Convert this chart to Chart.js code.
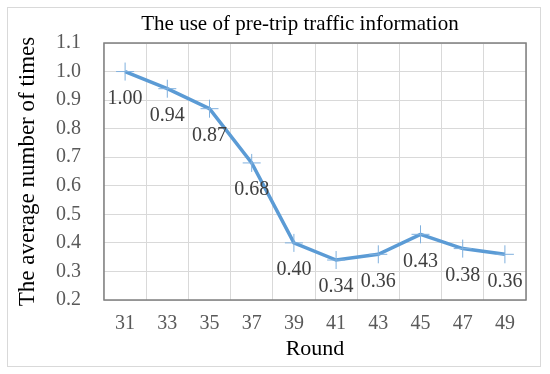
<!DOCTYPE html>
<html>
<head>
<meta charset="utf-8">
<script src="https://cdn.jsdelivr.net/npm/chart.js@4/dist/chart.umd.min.js"></script>
<style>
  body { margin: 0; background: #fff; }
  .frame { position: absolute; left: 7px; top: 7px; width: 534px; height: 360px; border: 1px solid #d9d9d9; box-sizing: border-box; }
</style>
</head>
<body>
<div class="frame"><canvas id="chart" width="532" height="358"></canvas></div>
<script>
const rounds = ['31', '33', '35', '37', '39', '41', '43', '45', '47', '49'];
const avgTimes = [1.00, 0.94, 0.87, 0.68, 0.40, 0.34, 0.36, 0.43, 0.38, 0.36];
const yMin = 0.2, yMax = 1.1, yStep = 0.1;
const chartTitle = 'The use of pre-trip traffic information';

const serif = '"Liberation Serif", "Times New Roman", serif';

// title drawn by hand, it sits a bit left of the plot centre
const titleText = {
  id: 'titleText',
  afterDraw(chart) {
    const ctx = chart.ctx;
    ctx.save();
    ctx.font = '21px ' + serif;
    ctx.fillStyle = '#000';
    ctx.textAlign = 'center';
    ctx.textBaseline = 'middle';
    ctx.fillText(chartTitle, chart.width / 2 + 26, 16);
    ctx.restore();
  }
};

// value labels under each point, Excel style
const valueLabels = {
  id: 'valueLabels',
  afterDatasetsDraw(chart) {
    const ctx = chart.ctx;
    const meta = chart.getDatasetMeta(0);
    ctx.save();
    ctx.font = '20px ' + serif;
    ctx.fillStyle = '#404040';
    ctx.textAlign = 'center';
    ctx.textBaseline = 'middle';
    meta.data.forEach((pt, i) => {
      ctx.fillText(avgTimes[i].toFixed(2), pt.x, pt.y + 27);
    });
    ctx.restore();
  }
};

// dark box round the plot area
const plotBox = {
  id: 'plotBox',
  beforeDatasetsDraw(chart) {
    const { ctx, chartArea: a } = chart;
    ctx.save();
    ctx.strokeStyle = '#7f7f7f';
    ctx.lineWidth = 1.5;
    ctx.strokeRect(a.left, a.top, a.right - a.left, a.bottom - a.top);
    ctx.restore();
  }
};

new Chart(document.getElementById('chart'), {
  type: 'line',
  data: {
    labels: rounds,
    datasets: [{
      data: avgTimes,
      borderColor: '#5b9bd5',
      borderWidth: 3.5,
      tension: 0,
      pointStyle: 'cross',
      pointRadius: 9,
      pointBorderWidth: 1,
      pointBorderColor: '#7fb0de'
    }]
  },
  options: {
    responsive: false,
    animation: false,
    layout: { padding: { left: 0, right: 14, top: 35, bottom: 0 } },
    plugins: {
      legend: { display: false },
      tooltip: { enabled: false },
      title: { display: false }
    },
    scales: {
      x: {
        offset: true,
        grid: { offset: true, color: '#d9d9d9', drawTicks: false },
        border: { display: false },
        ticks: { color: '#595959', font: { family: serif, size: 20 }, padding: 12 },
        title: { display: true, text: 'Round', color: '#000', font: { family: serif, size: 22 }, padding: { top: 4 } },
        afterFit(s) { s.height = 66; }
      },
      y: {
        min: yMin,
        max: yMax,
        grid: { color: '#d9d9d9', drawTicks: false },
        border: { display: false },
        ticks: {
          stepSize: yStep,
          color: '#595959',
          font: { family: serif, size: 20 },
          padding: 23,
          callback: v => v.toFixed(1)
        },
        title: { display: true, text: 'The average number of times', color: '#000', font: { family: serif, size: 23 }, padding: { top: 6, bottom: 2 } },
        afterFit(s) { s.width = 96; }
      }
    }
  },
  plugins: [plotBox, valueLabels, titleText]
});
</script>
</body>
</html>
